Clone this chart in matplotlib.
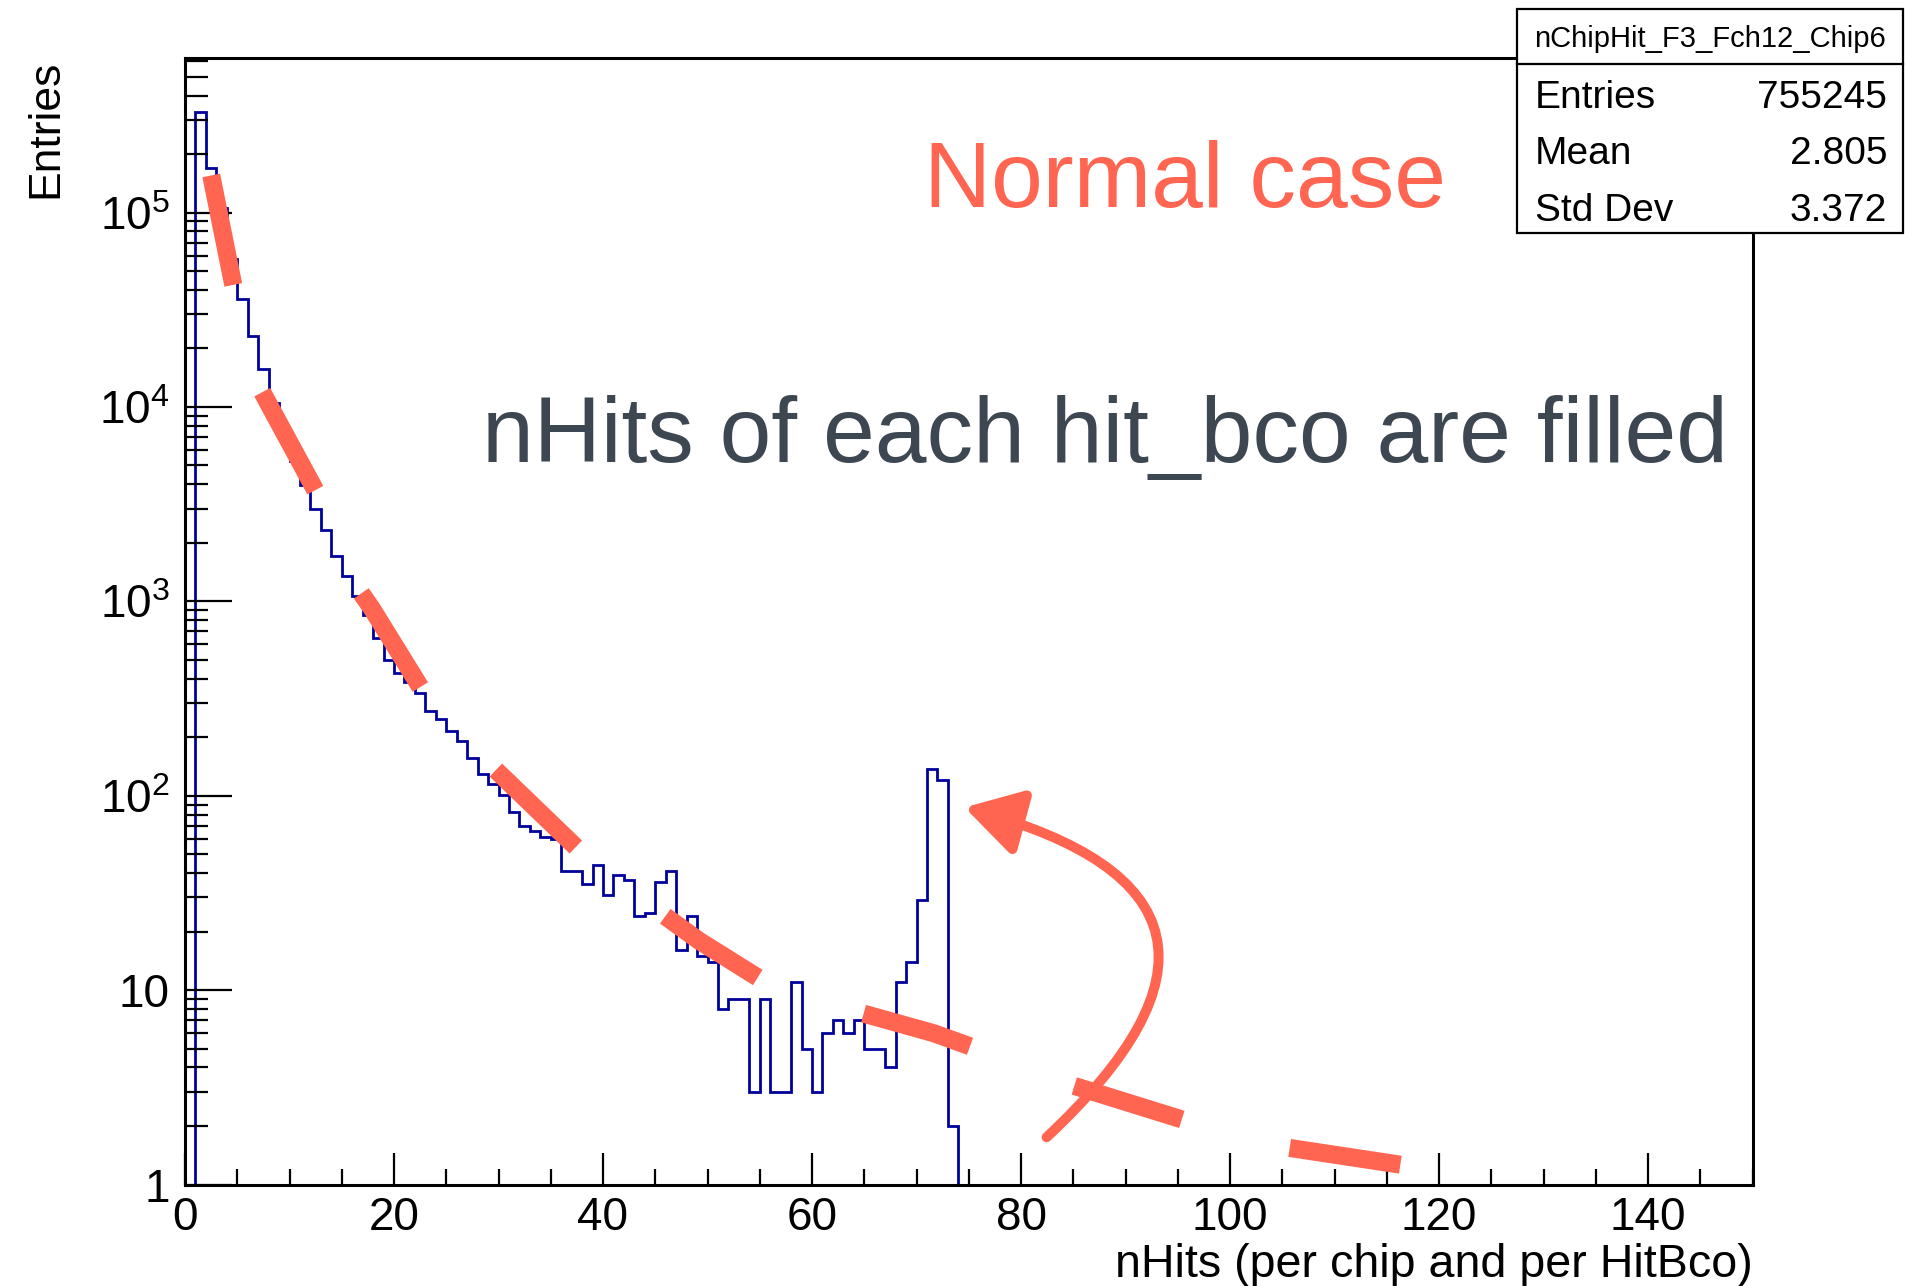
import numpy as np
import matplotlib
matplotlib.use("Agg")
import matplotlib.pyplot as plt
from matplotlib.patches import Rectangle, FancyArrowPatch
from matplotlib.lines import Line2D
from matplotlib.ticker import FixedLocator, LogLocator, NullFormatter, MultipleLocator

plt.rcParams['font.family'] = ['Liberation Sans', 'DejaVu Sans']
plt.rcParams['mathtext.fontset'] = 'custom'
plt.rcParams['mathtext.rm'] = 'Liberation Sans'
plt.rcParams['mathtext.it'] = 'Liberation Sans'
plt.rcParams['mathtext.bf'] = 'Liberation Sans'

# ---------------- data ----------------
hist_name = "nChipHit_F3_Fch12_Chip6"
bin_edges = np.arange(0, 151, 1)
counts_head = [
    0, 328000, 169000, 105000, 58000, 36000, 23200, 15600, 10500, 7500,
    5300, 3970, 3000, 2330, 1710, 1350, 1070, 850, 650, 500,
    426, 386, 339, 273, 249, 215, 192, 156, 130, 115,
    101, 82, 70, 66, 61, 60, 41, 41, 35, 44,
    31, 39, 37, 24, 25, 36, 41, 16, 24, 15,
    14, 8, 9, 9, 3, 9, 3, 3, 11, 5,
    3, 6, 7, 6, 7, 5, 5, 4, 11, 14,
    29, 137, 120, 2,
]
counts = counts_head + [0] * (150 - len(counts_head))
stats_labels = ["Entries", "Mean", "Std Dev"]
stats_values = ["755245", "2.805", "3.372"]
x_ticks = [0, 20, 40, 60, 80, 100, 120, 140]
y_ticks = [1, 10, 100, 1000, 10000, 100000]
y_ticklabels = ["1", "10", r"$\mathdefault{10^{2}}$", r"$\mathdefault{10^{3}}$",
                r"$\mathdefault{10^{4}}$", r"$\mathdefault{10^{5}}$"]
x_label = "nHits (per chip and per HitBco)"
y_label = "Entries"
note_big = "Normal case"
note_text = "nHits of each hit_bco are filled"

# hand-drawn annotation strokes (x, log10 y)
strokes = [
    [(2.51, 5.191), (4.62, 4.628)],
    [(7.39, 4.076), (12.47, 3.572)],
    [(16.87, 3.041), (17.87, 2.964), (22.52, 2.559)],
    [(29.75, 2.132), (37.40, 1.736)],
    [(45.96, 1.380), (49.19, 1.254), (54.81, 1.065)],
    [(64.94, 0.879), (71.67, 0.778), (75.12, 0.711)],
    [(85.10, 0.507), (95.39, 0.335)],
    [(105.71, 0.188), (116.30, 0.102)],
]
arrow_tail = (82.45, 0.243)
arrow_tip = (74.6, 1.940)

# ---------------- figure ----------------
W, H = 1905, 1286
fig = plt.figure(figsize=(W / 100, H / 100), dpi=100)
ax = fig.add_axes([185 / W, 1 - 1184.5 / H, (1752.5 - 185) / W, (1184.5 - 58) / H])

blue = '#00009a'
orange = '#ff6551'
slate = '#3d4752'

vals = np.array(counts, dtype=float)
plot_vals = np.where(vals > 0, vals, 1e-3)
ax.stairs(plot_vals, bin_edges, color=blue, lw=2.0, baseline=1e-3)

ax.set_yscale('log')
ax.set_xlim(0, 150)
ax.set_ylim(1, 6.24e5)

ax.xaxis.set_major_locator(FixedLocator(x_ticks))
ax.set_xticklabels([str(t) for t in x_ticks])
ax.xaxis.set_minor_locator(MultipleLocator(5))
ax.yaxis.set_major_locator(FixedLocator(y_ticks))
ax.set_yticklabels(y_ticklabels)
ax.yaxis.set_minor_locator(LogLocator(base=10, subs=np.arange(2, 10)))
ax.yaxis.set_minor_formatter(NullFormatter())

for s in ax.spines.values():
    s.set_linewidth(2.2)
ax.tick_params(axis='x', which='major', direction='in', length=23, width=1.6,
               labelsize=33, pad=8, top=False)
ax.tick_params(axis='x', which='minor', direction='in', length=11.5, width=1.6, top=False)
ax.tick_params(axis='y', which='major', direction='in', length=34, width=1.6,
               labelsize=33, pad=11, right=False)
ax.tick_params(axis='y', which='minor', direction='in', length=16.5, width=1.6, right=False)

# axis titles (ROOT style: at the ends)
fig.text(1752.5 / W, 1 - 1277 / H, x_label, ha='right', va='baseline', fontsize=33.6)
fig.text(45.6 / W, 1 - 60 / H, y_label, ha='center', va='top', rotation=90, fontsize=32)

# stats box
bx0, bx1, by0, by1, bsep = 1517, 1903, 9, 233, 64
fig.patches.append(Rectangle((bx0 / W, 1 - by1 / H), (bx1 - bx0) / W, (by1 - by0) / H,
                             transform=fig.transFigure, facecolor='white',
                             edgecolor='black', lw=1.6, zorder=5))
fig.lines.append(Line2D([bx0 / W, bx1 / W], [1 - bsep / H, 1 - bsep / H],
                        transform=fig.transFigure, color='black', lw=1.6, zorder=6))
fig.text((bx0 + bx1) / 2 / W, 1 - 46.7 / H, hist_name, ha='center', va='baseline',
         fontsize=21, zorder=7)
for i, (lab, val) in enumerate(zip(stats_labels, stats_values)):
    yb = 1 - (108 + i * 56.5) / H
    fig.text(1535 / W, yb, lab, ha='left', va='baseline', fontsize=28, zorder=7)
    fig.text(1887 / W, yb, val, ha='right', va='baseline', fontsize=28, zorder=7)

# annotations
fig.text(924 / W, 1 - 206.5 / H, note_big, ha='left', va='baseline', fontsize=67, color=orange)
fig.text(482 / W, 1 - 462 / H, note_text, ha='left', va='baseline', fontsize=67, color=slate)

for st in strokes:
    xs = [p[0] for p in st]
    ys = [10 ** p[1] for p in st]
    ax.plot(xs, ys, color=orange, lw=13, solid_capstyle='butt', solid_joinstyle='round',
            zorder=4, clip_on=False)

arr = FancyArrowPatch((arrow_tail[0], 10 ** arrow_tail[1]), (arrow_tip[0], 10 ** arrow_tip[1]),
                      connectionstyle="arc3,rad=0.9",
                      arrowstyle="-|>,head_length=3.4,head_width=2.0",
                      mutation_scale=10, color=orange, lw=7.2,
                      shrinkA=0, shrinkB=0, zorder=4, clip_on=False)
ax.add_patch(arr)

fig.savefig("out.png", dpi=100)
